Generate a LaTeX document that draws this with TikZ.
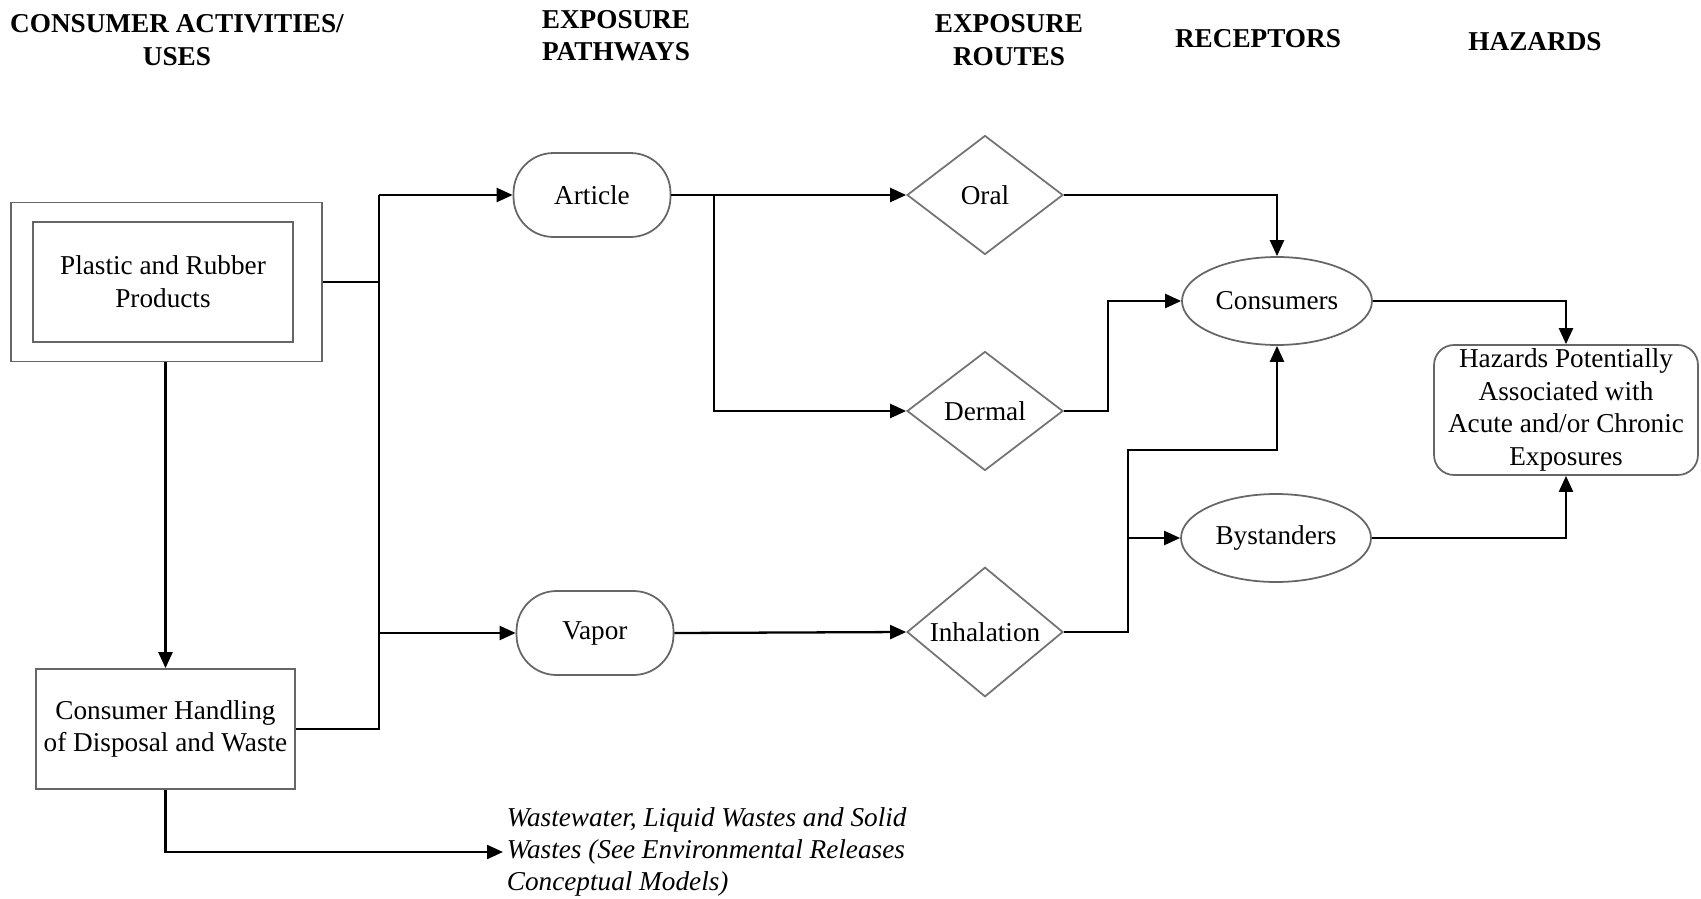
\documentclass[tikz,border=0pt]{standalone}
\usepackage{fontspec}
\setmainfont{Liberation Serif}
\usepackage{tikz}
\usetikzlibrary{arrows.meta,shapes.geometric,positioning}

\begin{document}
\begin{tikzpicture}[
        x=0.02cm, y=-0.02cm,
        font=\fontsize{15.5}{18.6}\selectfont,
        % Styles des en-tetes
        header/.style={font=\fontsize{15.5}{18.4}\selectfont\bfseries, align=center},
        % Styles des noeuds
        srcbox/.style={rectangle, draw=black!60, line width=1pt, align=center, inner sep=0pt},
        pathnode/.style={rectangle, rounded corners=0.8cm, draw=black!60, line width=1pt, minimum width=3.14cm, minimum height=1.68cm},
        routenode/.style={diamond, draw=black!55, line width=1pt, inner sep=0pt, minimum width=3.12cm, minimum height=2.38cm},
        recnode/.style={ellipse, draw=black!60, line width=1pt, inner sep=0pt, minimum width=3.8cm, minimum height=1.76cm},
        hazbox/.style={rectangle, rounded corners=0.4cm, draw=black!60, line width=1pt, align=center, minimum width=5.28cm, minimum height=2.6cm, inner sep=0pt},
        % Style des connecteurs
        link/.style={line width=1.3pt},
        flow/.style={line width=1.3pt, -{Triangle[length=0.32cm, width=0.28cm]}}
    ]
    \useasboundingbox (0,0) rectangle (1701,899);

    % En-tetes des colonnes
    \node[header] (hUses) at (177,40) {CONSUMER ACTIVITIES/\\USES};
    \node[header] (hPath) at (616,36) {EXPOSURE\\PATHWAYS};
    \node[header] (hRoute) at (1009,40) {EXPOSURE\\ROUTES};
    \node[header] (hRec) at (1258,39) {RECEPTORS};
    \node[header] (hHaz) at (1535,42) {HAZARDS};

    % Activites (double cadre)
    \node[srcbox, minimum width=6.22cm, minimum height=3.18cm] (outer) at (166.5,282) {};
    \node[srcbox, minimum width=5.2cm, minimum height=2.4cm] (plastic) at (163,282) {Plastic and Rubber\\Products};
    \node[srcbox, minimum width=5.18cm, minimum height=2.4cm] (handling) at (165.5,729) {Consumer Handling\\of Disposal and Waste};

    % Voies d'exposition
    \node[pathnode] (article) at (592,195) {Article};
    \node[pathnode] (vapor) at (595,633) {Vapor};

    % Routes d'exposition
    \node[routenode] (oral) at (985,195) {Oral};
    \node[routenode] (dermal) at (985,411) {Dermal};
    \node[routenode] (inhal) at (985,632) {Inhalation};

    % Recepteurs
    \node[recnode] (consumers) at (1277,301) {Consumers};
    \node[recnode] (bystanders) at (1276,538) {Bystanders};

    % Dangers
    \node[hazbox] (hazards) at (1566,410) {Hazards Potentially\\Associated with\\Acute and/or Chronic\\Exposures};

    % Rejets
    \node[anchor=west, align=left, font=\fontsize{15.5}{18.4}\selectfont\itshape, inner sep=2pt] (wastes) at (503,852)
        {Wastewater, Liquid Wastes and Solid\\Wastes (See Environmental Releases\\Conceptual Models)};

    % Points de jonction
    \coordinate (jA) at (379,0);
    \coordinate (jB) at (714,0);
    \coordinate (jC) at (1108,0);
    \coordinate (jD) at (1128,450);

    % Connecteurs
    \draw[link] (outer.east) -- (outer.east -| jA);
    \draw[link] (handling.east) -| (jA |- article.west);
    \draw[flow] (jA |- article.west) -- (article.west);
    \draw[flow] (jA |- vapor.west) -- (vapor.west);
    \draw[flow] (handling.north |- outer.south) -- (handling.north);
    \draw[flow] (handling.south) |- (wastes.west);

    \draw[flow] (article.east) -- (oral.west);
    \draw[flow] (jB |- article.east) |- (dermal.west);
    \draw[flow] (vapor.east) -- (inhal.west);

    \draw[flow] (oral.east) -| (consumers.north);
    \draw[flow] (dermal.east) -- (jC |- dermal.east) |- (consumers.west);
    \draw[flow] (inhal.east) -| (jD) -| (consumers.south);
    \draw[flow] (jD |- bystanders.west) -- (bystanders.west);

    \draw[flow] (consumers.east) -| (hazards.north);
    \draw[flow] (bystanders.east) -| (hazards.south);

\end{tikzpicture}
\end{document}
